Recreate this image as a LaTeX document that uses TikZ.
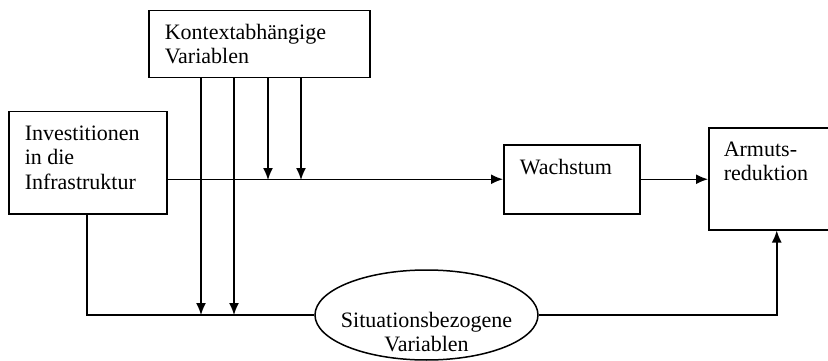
\documentclass[tikz,border=0pt]{standalone}
\usepackage{fontspec}
\setmainfont{Liberation Serif}
\usetikzlibrary{arrows.meta,shapes.geometric,positioning}

\begin{document}
\begin{tikzpicture}[x=1pt,y=-1pt,line width=1.5pt,>={Latex[length=12pt,width=10pt]},
  box/.style={draw,anchor=north west,inner xsep=16pt,inner ysep=14pt,
    font=\fontsize{22}{24.5}\selectfont},
  oval/.style={draw,ellipse,minimum width=223pt,minimum height=90pt}]

  \useasboundingbox (0,0) rectangle (828,361);

  \def\ymain{180}
  \def\ylow{315}

  % boxes
  \node[box,inner ysep=13pt] (kontext) at (148,10)
    {\parbox[t][41pt][t]{189pt}{\raggedright Kontextabhängige\\Variablen}};
  \node[box] (invest) at (8,111)
    {\parbox[t][74pt][t]{126pt}{\raggedright Investitionen\\in die\\Infrastruktur}};
  \node[box] (wachstum) at (503,144)
    {\parbox[t][41pt][t]{104pt}{\raggedright Wachstum}};
  \node[box,inner xsep=15pt] (armut) at (708,127)
    {\parbox[t][74pt][t]{106pt}{\raggedright Armuts-\\reduktion}};

  \node[oval] (sit) at (426.5,\ylow) {};
  \node[align=center,inner sep=0pt,font=\fontsize{22}{24.5}\selectfont] (sitlabel)
    at (426.5,332) {Situationsbezogene\\Variablen};

  % points on the two lines
  \coordinate (ka) at (201,\ylow);
  \coordinate (kb) at (234,\ylow);
  \coordinate (kc) at (268,\ymain);
  \coordinate (kd) at (301,\ymain);
  \coordinate (knick) at (87,\ylow);

  \draw[->] (invest.east |- wachstum.west) -- (wachstum.west);
  \draw[->] (wachstum.east) -- (wachstum.east -| armut.west);

  \foreach \k in {ka,kb,kc,kd}
    \draw[->] (kontext.south -| \k) -- (\k);

  \draw (invest.south -| knick) -- (knick) -- (sit.west);
  \draw[->] (sit.east) -| (armut.south);

\end{tikzpicture}
\end{document}
